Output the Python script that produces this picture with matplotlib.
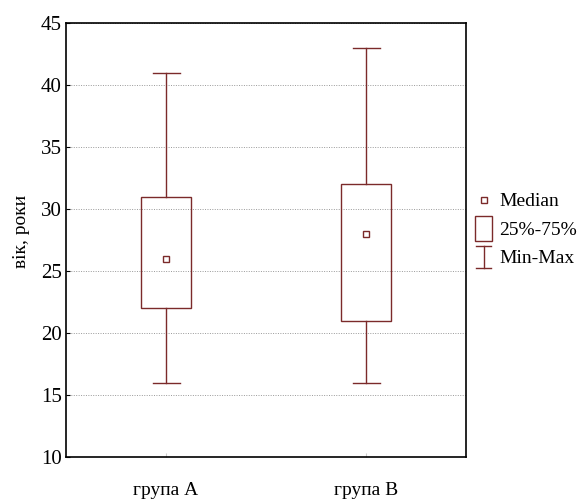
import matplotlib.pyplot as plt
from matplotlib.lines import Line2D
from matplotlib.patches import Rectangle
from matplotlib.legend_handler import HandlerBase

groups = ['група А', 'група В']
mins = [16, 16]
q1 = [22, 21]
medians = [26, 28]
q3 = [31, 32]
maxs = [41, 43]

col = '#7b2a2a'
plt.rcParams['font.family'] = ['Liberation Serif', 'DejaVu Serif']

fig = plt.figure(figsize=(5.81, 5.00), dpi=100)
ax = fig.add_axes([66 / 581, 43 / 500, 400 / 581, 434 / 500])

bw = 0.25
cw = 0.135
for i in range(len(groups)):
    ax.add_patch(Rectangle((i - bw / 2, q1[i]), bw, q3[i] - q1[i],
                           fill=False, edgecolor=col, lw=1.0, zorder=3))
    ax.plot([i, i], [q3[i], maxs[i]], color=col, lw=1.0, zorder=3)
    ax.plot([i, i], [mins[i], q1[i]], color=col, lw=1.0, zorder=3)
    ax.plot([i - cw / 2, i + cw / 2], [maxs[i], maxs[i]], color=col, lw=1.0, zorder=3)
    ax.plot([i - cw / 2, i + cw / 2], [mins[i], mins[i]], color=col, lw=1.0, zorder=3)
    ax.plot(i, medians[i], marker='s', ms=4.5, mfc='white', mec=col, mew=1.0, zorder=4)

ax.set_xlim(-0.5, 1.5)
ax.set_ylim(10, 45)
ax.set_xticks(range(len(groups)))
ax.set_xticklabels(groups, fontsize=14)
ax.set_yticks(range(10, 50, 5))
ax.tick_params(axis='y', labelsize=15, length=3, direction='in', pad=3)
ax.tick_params(axis='x', length=3, direction='in', pad=18, colors='#cccccc',
               labelcolor='black')
ax.yaxis.grid(True, linestyle=(0, (1, 1.5)), color='#999999', lw=0.7)
ax.set_axisbelow(True)
for s in ax.spines.values():
    s.set_linewidth(1.2)
ax.set_ylabel('вік, роки', fontsize=14)
ax.yaxis.set_label_coords(-0.09, 0.52)


class HandlerMinMax(HandlerBase):
    def create_artists(self, legend, orig_handle, xd, yd, width, height, fontsize, trans):
        cx = xd + width / 2
        w = width * 0.75
        y0 = yd - height * 0.35
        y1 = yd + height * 1.25
        return [Line2D([cx, cx], [y0, y1], color=col, lw=1.0, transform=trans),
                Line2D([cx - w / 2, cx + w / 2], [y0, y0], color=col, lw=1.0, transform=trans),
                Line2D([cx - w / 2, cx + w / 2], [y1, y1], color=col, lw=1.0, transform=trans)]


class HandlerBox(HandlerBase):
    def create_artists(self, legend, orig_handle, xd, yd, width, height, fontsize, trans):
        w = width * 0.85
        return [Rectangle((xd + (width - w) / 2, yd - height * 0.45), w, height * 1.8,
                          fill=False, edgecolor=col, lw=1.0, transform=trans)]


med_h = Line2D([], [], marker='s', ms=4.5, mfc='white', mec=col, mew=1.0, ls='none')
box_h = object()
mm_h = 'minmax'
leg = fig.legend([med_h, box_h, mm_h], ['Median', '25%-75%', 'Min-Max'],
                 handler_map={object: HandlerBox(), str: HandlerMinMax()},
                 loc='center left', bbox_to_anchor=(474 / 581, 1 - 230 / 500),
                 frameon=False, fontsize=14, handlelength=1.0, handletextpad=0.3,
                 labelspacing=0.55, borderaxespad=0, borderpad=0)

fig.savefig('out.png', dpi=100)
